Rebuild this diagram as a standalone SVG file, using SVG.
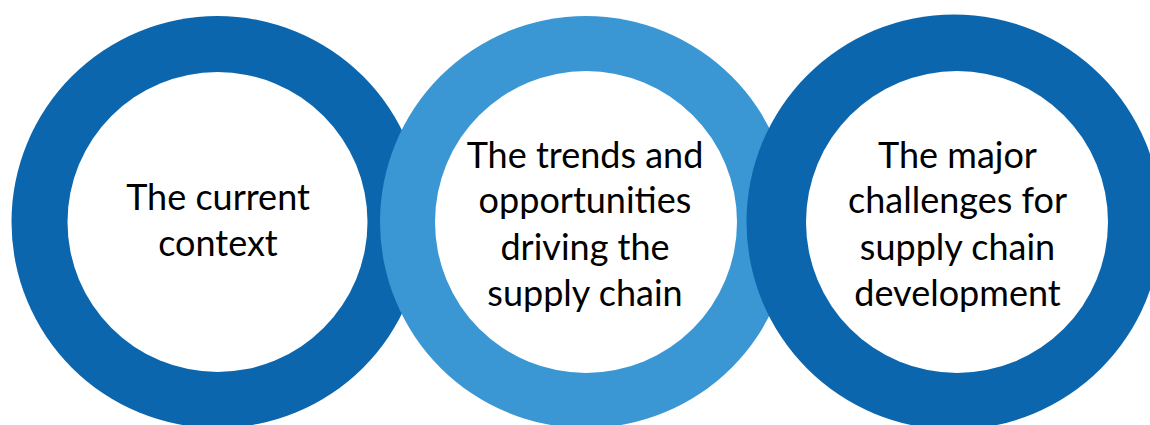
<svg xmlns="http://www.w3.org/2000/svg" width="1150" height="425" viewBox="0 0 1150 425">
  <style>
    .dark { fill: #0B66AE; }
    .light { fill: #3A97D3; }
    .hole { fill: #FFFFFF; }
    .label { font-family: Lato, "Open Sans", "Liberation Sans", sans-serif; font-size: 36px; fill: #000000; text-anchor: middle; }
  </style>
  <rect width="1150" height="425" fill="#FFFFFF"/>

  <!-- first ring -->
  <g id="node-current-context">
    <circle class="dark" cx="217.5" cy="222" r="206"/>
    <circle class="hole" cx="217.5" cy="222" r="150"/>
    <text class="label" x="218" y="210">The current</text>
    <text class="label" x="218" y="256">context</text>
  </g>

  <!-- second ring, drawn over the first -->
  <g id="node-trends">
    <circle class="light" cx="586" cy="222" r="206"/>
    <circle class="hole" cx="586" cy="222" r="151"/>
    <text class="label" x="585" y="168">The trends and</text>
    <text class="label" x="585" y="213">opportunities</text>
    <text class="label" x="585" y="260">driving the</text>
    <text class="label" x="585" y="306">supply chain</text>
  </g>

  <!-- third ring, drawn over the second -->
  <g id="node-challenges">
    <circle class="dark" cx="954" cy="222" r="207.5"/>
    <circle class="hole" cx="957" cy="222" r="151"/>
    <text class="label" x="957.5" y="168">The major</text>
    <text class="label" x="957.5" y="213">challenges for</text>
    <text class="label" x="957.5" y="260">supply chain</text>
    <text class="label" x="957.5" y="306">development</text>
  </g>
</svg>
